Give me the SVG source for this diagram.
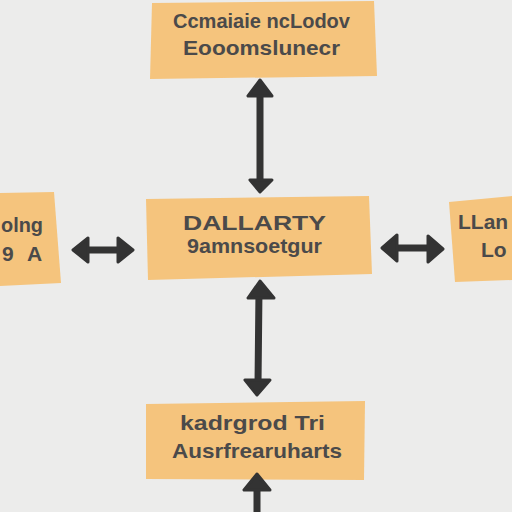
<svg xmlns="http://www.w3.org/2000/svg" width="512" height="512" viewBox="0 0 512 512">
<defs>
<style>
.box{fill:#f5c47d;}
.t{font-family:"Liberation Sans",Arial,sans-serif;fill:#4b4a4a;font-size:21px;font-weight:bold;}
.c{stroke:#333;stroke-width:7;stroke-linecap:round;fill:none;}
.h{fill:#333;stroke:#333;stroke-width:3;stroke-linejoin:round;}
</style>
</defs>
<rect width="512" height="512" fill="#ececeb"/>
<g id="node-top">
<polygon class="box" points="152,3 374,1 377,76 150,79"/>
<text class="t" x="173" y="28" textLength="177" lengthAdjust="spacingAndGlyphs">Ccmaiaie ncLodov</text>
<text class="t" x="183" y="55" textLength="157" lengthAdjust="spacingAndGlyphs">Eooomslunecr</text>
</g>
<g id="node-center">
<polygon class="box" points="146,199 369,196 372,274 148,280"/>
<text class="t" x="183" y="230" font-size="27" textLength="143" lengthAdjust="spacingAndGlyphs">DALLARTY</text>
<text class="t" x="187" y="253" font-size="22" textLength="135" lengthAdjust="spacingAndGlyphs">9amnsoetgur</text>
</g>
<g id="node-left">
<polygon class="box" points="0,193 54,192 61,283 0,286"/>
<text class="t" x="1" y="232" font-size="20" textLength="42" lengthAdjust="spacingAndGlyphs">olng</text>
<text class="t" x="2" y="261" font-size="18">9</text>
<text class="t" x="27" y="261" font-size="18">A</text>
</g>
<g id="node-right">
<polygon class="box" points="449,202 512,196 512,280 455,282"/>
<text class="t" x="458" y="229" font-size="21">LLan</text>
<text class="t" x="481" y="257" font-size="22">Lo</text>
</g>
<g id="node-bottom">
<polygon class="box" points="146,404 365,401 364,480 146,479"/>
<text class="t" x="180" y="430" textLength="145" lengthAdjust="spacingAndGlyphs">kadrgrod Tri</text>
<text class="t" x="172" y="458" textLength="170" lengthAdjust="spacingAndGlyphs">Ausrfrearuharts</text>
</g>
<g id="connectors">
<line class="c" x1="260" y1="90" x2="260" y2="184"/>
<polygon class="h" points="260,80 248,96 272,96"/>
<polygon class="h" points="260,192 250,180 272,180"/>
<line class="c" x1="259" y1="290" x2="258" y2="384"/>
<polygon class="h" points="260,281 248,298 274,298"/>
<polygon class="h" points="257,395 245,380 270,380"/>
<line class="c" x1="82" y1="250" x2="124" y2="250"/>
<polygon class="h" points="73,250 88,238 88,262"/>
<polygon class="h" points="133,250 118,238 118,262"/>
<line class="c" x1="390" y1="248" x2="434" y2="248"/>
<polygon class="h" points="382,248 397,235 397,261"/>
<polygon class="h" points="443,249 428,236 428,262"/>
<line class="c" x1="257" y1="488" x2="257" y2="512"/>
<polygon class="h" points="257,474 244,490 270,490"/>
</g>
</svg>
